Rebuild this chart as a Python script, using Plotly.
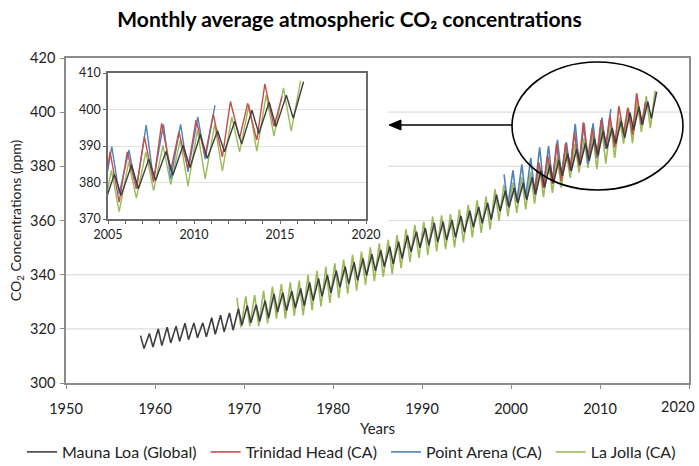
import plotly.graph_objects as go

# ---------------- data ----------------
# Seasonal maximum and minimum of each year, per station (ppm)
ml_years = list(range(1958, 2017))
ml_peak = [317.5, 318.3, 320.0, 320.6, 321.0, 322.1, 322.2, 322.2, 324.1, 325.0,
           325.9, 327.4, 328.6, 328.9, 330.4, 332.9, 333.4, 334.0, 334.9, 337.1,
           338.6, 339.9, 341.5, 343.0, 344.6, 346.0, 347.6, 349.0, 350.4, 352.2,
           354.5, 355.9, 357.2, 359.1, 359.6, 360.2, 361.7, 363.6, 365.0, 366.5,
           369.5, 371.0, 372.0, 373.9, 375.9, 378.5, 380.5, 382.3, 384.8, 386.4,
           388.5, 390.2, 393.2, 394.2, 396.8, 399.8, 402.0, 403.9, 407.6]
ml_trough = [312.7, 313.3, 313.8, 314.8, 315.4, 316.0, 316.7, 317.1, 318.0, 318.9,
             319.5, 321.3, 322.2, 322.8, 324.0, 326.2, 326.7, 327.7, 328.5, 330.4,
             332.0, 333.3, 335.3, 336.6, 337.9, 339.7, 341.4, 342.9, 343.9, 345.9,
             348.4, 349.9, 350.8, 352.0, 352.8, 353.8, 355.6, 357.5, 359.0, 360.3,
             363.5, 364.9, 366.4, 367.6, 369.7, 372.3, 373.8, 376.5, 378.3, 380.6,
             382.0, 384.1, 386.6, 388.4, 390.5, 393.4, 395.3, 397.6, None]

lj_years = list(range(1969, 2017))
lj_peak = [331.5, 332.0, 332.5, 334.0, 335.6, 336.5, 337.2, 337.8, 339.9, 341.4,
           342.9, 344.2, 345.6, 347.3, 348.5, 350.1, 351.6, 352.9, 354.6, 356.8,
           358.3, 359.5, 361.4, 361.9, 362.4, 364.1, 365.8, 367.4, 368.8, 371.6,
           373.2, 374.1, 376.0, 377.9, 380.4, 382.3, 383.3, 385.6, 388.4, 390.2,
           391.6, 394.4, 395.9, 398.0, 401.3, 404.0, 405.9, 407.9]
lj_trough = [320.5, 321.0, 321.0, 322.0, 323.8, 323.8, 324.8, 325.0, 326.9, 328.3,
             329.6, 331.4, 333.0, 334.1, 336.2, 337.6, 339.2, 340.3, 342.4, 344.7,
             346.2, 347.3, 348.6, 349.4, 350.1, 351.9, 353.8, 355.4, 356.6, 359.9,
             361.5, 362.8, 364.1, 366.2, 368.6, 370.2, 372.0, 375.7, 377.8, 379.4,
             379.0, 381.0, 383.1, 388.4, 388.6, 392.7, 394.1, None]

pa_years = list(range(1999, 2012))
pa_peak = [377.0, 378.5, 380.7, 383.0, 387.0, 387.5, 389.8, 388.9, 395.7, 395.9,
           395.9, 398.0, 401.1]
pa_trough = [365.5, 367.0, 368.5, 370.5, 373.0, 374.5, 376.9, 378.3, 380.6, 381.0,
             382.9, 386.4, None]

th_years = list(range(2002, 2016))
th_peak = [None, 381.5, 384.0, 388.4, 388.4, 392.5, 396.2, 393.9, 397.1, 398.7,
           402.2, 401.7, 407.0, 403.6]
th_trough = [369.5, 372.0, 373.5, 374.6, 378.3, 380.1, 383.3, 383.8, 387.5, 387.0,
             392.1, 391.6, 395.4, None]

# month (as fraction of the year) at which each station peaks / bottoms out
ml_phase = (0.37, 0.77)
lj_phase = (0.20, 0.65)
pa_phase = (0.22, 0.65)
th_phase = (0.12, 0.65)

series_names = ["Mauna Loa (Global)", "Trinidad Head (CA)", "Point Arena (CA)", "La Jolla (CA)"]
series_colors = ["#3f3f3f", "#C0504D", "#4F81BD", "#9BBB59"]

x_tickvals = [1950, 1960, 1970, 1980, 1990, 2000, 2010, 2020]
x_ticktext = ["1950", "1960", "1970", "1980", "1990", "2000", "2010", "2020"]


def seasonal(years, peaks, troughs, phase):
    xs, ys = [], []
    for yr, p, t in zip(years, peaks, troughs):
        if p is not None:
            xs.append(yr + phase[0]); ys.append(p)
        if t is not None:
            xs.append(yr + phase[1]); ys.append(t)
    return xs, ys


data = {
    "Mauna Loa (Global)": seasonal(ml_years, ml_peak, ml_trough, ml_phase),
    "Trinidad Head (CA)": seasonal(th_years, th_peak, th_trough, th_phase),
    "Point Arena (CA)": seasonal(pa_years, pa_peak, pa_trough, pa_phase),
    "La Jolla (CA)": seasonal(lj_years, lj_peak, lj_trough, lj_phase),
}

FONT = "Lato, 'Open Sans', sans-serif"
W, H = 699, 466
ML, MR, MT, MB = 66, 10, 58, 83
PW, PH = W - ML - MR, H - MT - MB
NBSP = "\u00a0"


def px_x(p):  # pixel -> paper x
    return (p - ML) / PW


def px_y(p):  # pixel -> paper y
    return (H - MB - p) / PH


# small spacing after legend labels so entries sit where the reference has them
legend_pad = [1, 1, 1, 0]

fig = go.Figure()

draw_order = ["La Jolla (CA)", "Point Arena (CA)", "Trinidad Head (CA)", "Mauna Loa (Global)"]
for name in draw_order:
    i = series_names.index(name)
    xs, ys = data[name]
    fig.add_trace(go.Scatter(x=xs, y=ys, mode="lines", name=name + NBSP * legend_pad[i],
                             line=dict(color=series_colors[i], width=1.6),
                             legendrank=i + 1, xaxis="x", yaxis="y"))
for name in draw_order:
    i = series_names.index(name)
    xs, ys = data[name]
    fig.add_trace(go.Scatter(x=xs, y=ys, mode="lines", name=name, showlegend=False,
                             line=dict(color=series_colors[i], width=1.4),
                             xaxis="x2", yaxis="y2"))

axis_gray = "#8c8c8c"
TICK_FONT = 14.5
fig.update_layout(
    template="none",
    width=W, height=H,
    margin=dict(l=ML, r=MR, t=MT, b=MB, autoexpand=False),
    paper_bgcolor="white", plot_bgcolor="white",
    font=dict(family=FONT, size=14, color="#222222"),
    title=dict(text="<b>Monthly average atmospheric CO₂ concentrations</b>",
               x=0.5, xanchor="center", xref="container",
               y=1 - 20 / H, yanchor="middle", yref="container",
               font=dict(size=21, color="black")),
    # the last label (2020) is placed separately so that it stays inside the canvas
    xaxis=dict(range=[1950, 2020], tickvals=x_tickvals[:-1], ticktext=x_ticktext[:-1],
               showgrid=False, automargin=False,
               showline=True, mirror=True, linecolor=axis_gray, linewidth=1.5,
               ticks="outside", ticklen=4, tickcolor=axis_gray,
               minor=dict(tickvals=x_tickvals[-1:], ticks="outside", ticklen=4,
                          tickcolor=axis_gray, showgrid=False),
               ticklabelstandoff=8, zeroline=False, tickfont=dict(size=TICK_FONT),
               title=dict(text="Years", standoff=7, font=dict(size=15))),
    yaxis=dict(range=[300, 420], dtick=20, showgrid=False, automargin=False,
               showline=True, mirror=True, linecolor=axis_gray, linewidth=1.5,
               ticks="outside", ticklen=4, tickcolor=axis_gray, zeroline=False,
               tickfont=dict(size=TICK_FONT), ticklabelstandoff=2,
               title=dict(text="CO<sub>2</sub> Concentrations (ppm)", standoff=5,
                          font=dict(size=14))),
    xaxis2=dict(domain=[px_x(108), px_x(366)], anchor="y2", range=[2005, 2020],
                tickvals=[2005, 2010, 2015, 2020], showgrid=False, automargin=False,
                showline=True, mirror=True, linecolor="#6a6a6a", linewidth=1.5,
                ticks="outside", ticklen=3, tickcolor="#6a6a6a",
                minor=dict(dtick=1, ticks="outside", ticklen=3, tickcolor="#6a6a6a"),
                tickfont=dict(size=12.5), zeroline=False),
    yaxis2=dict(domain=[px_y(219), px_y(73)], anchor="x2", range=[370, 410], dtick=10,
                showgrid=True, gridcolor="#e3e3e3", gridwidth=1, automargin=False,
                showline=True, mirror=True, linecolor="#6a6a6a", linewidth=1.5,
                ticks="outside", ticklen=3, tickcolor="#6a6a6a",
                tickfont=dict(size=12.5), zeroline=False),
    legend=dict(orientation="h", xref="paper", yref="paper",
                x=px_x(22), xanchor="left", y=px_y(452), yanchor="middle",
                font=dict(size=16), itemwidth=30, traceorder="normal",
                bgcolor="rgba(0,0,0,0)"),
    showlegend=True,
)

# last x tick label, nudged left to stay within the canvas
fig.add_annotation(xref="paper", yref="paper", x=px_x(697), y=px_y(406),
                   xanchor="right", yanchor="middle", text=x_ticktext[-1],
                   showarrow=False, font=dict(size=TICK_FONT, color="#222222"))

# main horizontal gridlines, hidden behind the inset panel
inset_right = px_x(388)
inset_bottom_px = 252
for v in [320, 340, 360, 380, 400]:
    y_px = (H - MB) - (v - 300) / 120 * PH
    x0 = inset_right if y_px < inset_bottom_px else 0
    fig.add_shape(type="line", xref="paper", yref="y", x0=x0, x1=1, y0=v, y1=v,
                  line=dict(color="#dedede", width=1.2), layer="below")

# ellipse highlighting recent years
fig.add_shape(type="circle", xref="paper", yref="paper",
              x0=px_x(512), x1=px_x(683), y0=px_y(190), y1=px_y(62),
              line=dict(color="black", width=1.6))

# arrow toward the inset: shaft + head
fig.add_shape(type="line", xref="paper", yref="paper",
              x0=px_x(512), x1=px_x(398), y0=px_y(125), y1=px_y(125),
              line=dict(color="black", width=1.6))
head = "M {:.5f} {:.5f} L {:.5f} {:.5f} L {:.5f} {:.5f} Z".format(
    px_x(389), px_y(125), px_x(401), px_y(120), px_x(401), px_y(130))
fig.add_shape(type="path", xref="paper", yref="paper", path=head,
              fillcolor="black", line=dict(color="black", width=1))

fig.write_html("out.html", config={"displayModeBar": False},
               post_script="document.body.style.margin='0';")
